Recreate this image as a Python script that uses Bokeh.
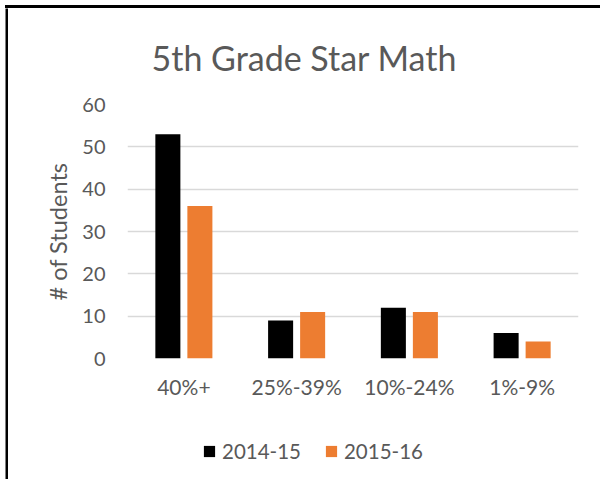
from bokeh.plotting import figure
from bokeh.models import (FactorRange, Range1d, FixedTicker, Legend, LegendItem,
                          ColumnDataSource, Spacer)
from bokeh.layouts import column, row
from bokeh.transform import dodge
from bokeh.embed import file_html
from bokeh.resources import INLINE

categories = ["40%+", "25%-39%", "10%-24%", "1%-9%"]
series_names = ["2014-15", "2015-16"]
values_2014_15 = [53, 9, 12, 6]
values_2015_16 = [36, 11, 11, 4]
y_ticks = [0, 10, 20, 30, 40, 50, 60]

FONT = "Lato"
TXT = "#595959"
C1 = "#000000"
C2 = "#ED7D31"
BAR_W = 0.222
DODGE = 0.142

src = ColumnDataSource(dict(cat=categories, a=values_2014_15, b=values_2015_16))


def strip(w, h):
    f = figure(width=w, height=h, min_border=0, toolbar_location=None, output_backend="svg",
               x_axis_location=None, y_axis_location=None,
               background_fill_color="black", border_fill_color="black")
    f.outline_line_color = None
    f.grid.visible = False
    return f


p = figure(width=592, height=407, x_range=FactorRange(*categories, range_padding=0),
           y_range=Range1d(0, 60), output_backend="svg", toolbar_location=None,
           min_border_left=119, min_border_right=22, min_border_top=96, min_border_bottom=57)

p.vbar(x=dodge("cat", -DODGE, range=p.x_range), top="a", width=BAR_W, source=src,
       color=C1, line_color=None)
p.vbar(x=dodge("cat", DODGE, range=p.x_range), top="b", width=BAR_W, source=src,
       color=C2, line_color=None)

p.title.text = "5th Grade Star Math"
p.title.text_font = FONT
p.title.text_font_size = "34px"
p.title.text_font_style = "normal"
p.title.text_color = TXT
p.title.align = "left"
p.title.vertical_align = "top"
p.title.text_baseline = "alphabetic"
p.title.offset = 24
p.title.standoff = 50

p.outline_line_color = None
p.xgrid.grid_line_color = None
p.ygrid.grid_line_color = "#D9D9D9"
p.ygrid.grid_line_width = 1.6
p.yaxis.ticker = FixedTicker(ticks=y_ticks)

for ax in (p.xaxis[0], p.yaxis[0]):
    ax.axis_line_color = None
    ax.major_tick_line_color = None
    ax.minor_tick_line_color = None
    ax.major_label_text_font = FONT
    ax.major_label_text_color = TXT

p.yaxis.major_label_text_font_size = "20px"
p.xaxis.major_label_text_font_size = "21px"
p.yaxis.major_label_standoff = 16
p.xaxis.major_label_standoff = 9
p.yaxis.axis_label = "# of Students"
p.yaxis.axis_label_text_font = FONT
p.yaxis.axis_label_text_font_size = "23.5px"
p.yaxis.axis_label_text_font_style = "normal"
p.yaxis.axis_label_text_color = TXT
p.yaxis.axis_label_standoff = 7

# legend strip below the chart (its frame is aligned with the chart frame)
lf = figure(width=592, height=64, x_range=FactorRange(*categories, range_padding=0),
            y_range=Range1d(100, 101), output_backend="svg", toolbar_location=None,
            min_border=0, x_axis_location=None, y_axis_location=None)
lf.outline_line_color = None
lf.grid.visible = False
l1 = lf.vbar(x=dodge("cat", -DODGE, range=lf.x_range), top="a", width=BAR_W, source=src,
             color=C1, line_color=None)
l2 = lf.vbar(x=dodge("cat", DODGE, range=lf.x_range), top="b", width=BAR_W, source=src,
             color=C2, line_color=None)
legend = Legend(items=[LegendItem(label=series_names[0], renderers=[l1]),
                       LegendItem(label=series_names[1], renderers=[l2])],
                orientation="horizontal", location=(75, 16),
                label_text_font=FONT, label_text_font_size="20.5px", label_text_color=TXT,
                glyph_width=14, glyph_height=14, label_standoff=6, spacing=23,
                border_line_color=None, background_fill_alpha=0, margin=0, padding=0)
lf.add_layout(legend)

top_bar = Spacer(width=595, height=3, styles={"background-color": "black"})

layout = column(
    Spacer(width=600, height=5),
    row(Spacer(width=5, height=3), top_bar),
    row(Spacer(width=5, height=471), strip(3, 471), column(p, lf)),
)

open("out.html", "w").write(file_html(layout, INLINE))
